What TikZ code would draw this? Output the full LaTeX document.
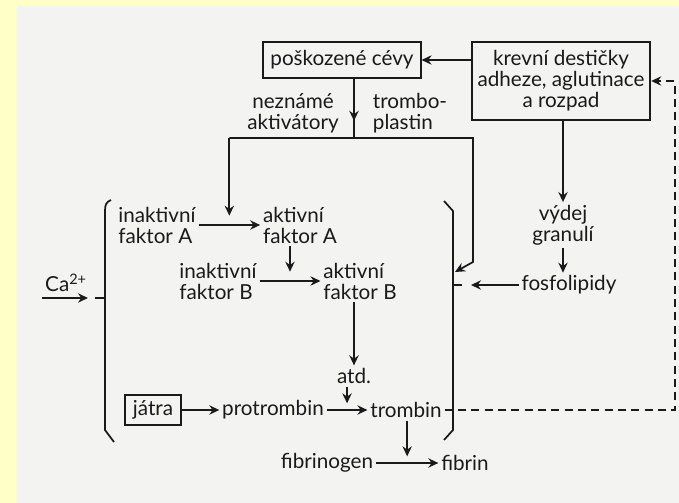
\documentclass[tikz,border=0pt]{standalone}
\usepackage{fontspec}
\setmainfont{Lato}
\usetikzlibrary{arrows.meta,calc}
\definecolor{inkc}{HTML}{1A1A1A}
\definecolor{paper}{HTML}{F3F3F1}
\definecolor{margin}{HTML}{FFFFC8}
\newcommand{\fsz}{\fontsize{15.5}{15.75}\selectfont}

\begin{document}
\begin{tikzpicture}[x=0.75pt,y=-0.75pt,
	ink/.style={draw=inkc,line width=1.3pt},
	arr/.style={ink,-{Stealth[length=7.5pt,width=7pt,inset=2.5pt]}},
	txt/.style={inner sep=2pt,text=inkc,font=\fsz},
	boxed/.style={txt,draw=inkc,line width=1.3pt},
	dsh/.style={dash pattern=on 6pt off 4pt}]

\fill[margin] (0,0) rectangle (679,503);
\fill[paper] (17,6) rectangle (679,503);
\useasboundingbox (0,0) rectangle (679,503);

\node[boxed,minimum width=118pt,minimum height=27pt] (pc) at (342,60) {poškozené cévy};
\node[boxed,align=center,minimum width=134pt,minimum height=58pt] (kd) at (561,81) {krevní destičky\\adheze, aglutinace\\a rozpad};
\node[txt,align=center] (nz) at (293,113) {neznámé\\aktivátory};
\node[txt,align=left,anchor=west] (tp) at (370,113) {trombo-\\plastin};

\node[txt,align=left] (inA) at (157,225) {inaktivní\\faktor A};
\node[txt,align=left] (aA) at (300,225) {aktivní\\faktor A};
\node[txt,align=left] (inB) at (218,281) {inaktivní\\faktor B};
\node[txt,align=left] (aB) at (360,281) {aktivní\\faktor B};
\node[txt] (atd) at (354,376) {atd.};
\node[boxed,inner xsep=6pt,minimum height=23pt] (jt) at (153,410) {játra};
\node[txt] (pt) at (273,410) {protrombin};
\node[txt] (tr) at (406,410) {trombin};
\node[txt] (fg) at (327,463) {fibrinogen};
\node[txt] (fb) at (465,463) {fibrin};

\node[txt,align=center] (vg) at (563,225) {výdej\\granulí};
\node[txt] (fo) at (569,285) {fosfolipidy};
\node[txt] (ca) at (66,283) {Ca\textsuperscript{2+}};

\coordinate (bar) at (354,138);
\coordinate (rr) at (473,262);
\coordinate (rbin) at (455,272);
\coordinate (caend) at (88,298);
\coordinate (foend) at (471,285);
\coordinate (dr) at (675,411);

\draw[ink] (111,200) .. controls (106,202) and (105,205) .. (105,211) -- (105,430) -- (114,442);
\draw[ink] (95,298) -- (105,298);
\draw[ink] (444,201) -- (453,211) -- (453,430) -- (444,440);
\draw[ink] (453,285) -- (462,285);

\draw[arr] (kd.west |- pc) -- (pc);
\draw[ink] (pc.south -| bar) -- (bar);
\draw[arr] (pc.south -| bar) -- ++(0,42);
\draw[arr] (inA) -- (aA) coordinate[midway] (cA);
\draw[arr] (bar -| cA) -- ([yshift=7pt]cA);
\draw[arr] (bar -| cA) -- (bar -| rr) -- (rr) -- (rbin);
\draw[arr] (inB) -- (aB) coordinate[midway] (cB);
\draw[arr] (aA.south -| cB) -- ([yshift=7pt]cB);
\draw[arr] (aB.south -| atd) -- (atd);
\draw[arr] (jt) -- (pt);
\draw[arr] (pt) -- (tr) coordinate[midway] (cP);
\draw[arr] (atd.south -| cP) -- ([yshift=5pt]cP);
\draw[arr] (fg) -- (fb) coordinate[midway] (cF);
\draw[arr] (tr.south -| cF) -- ([yshift=5pt]cF);

\draw[arr] (kd.south -| vg) -- (vg);
\draw[arr] (vg) -- (vg |- fo.north);
\draw[arr] (fo) -- (foend);
\draw[arr] (ca.west |- caend) -- (caend);
\draw[arr,dsh] (tr.east) -- (tr.east -| dr) |- (kd.east);

\end{tikzpicture}
\end{document}
